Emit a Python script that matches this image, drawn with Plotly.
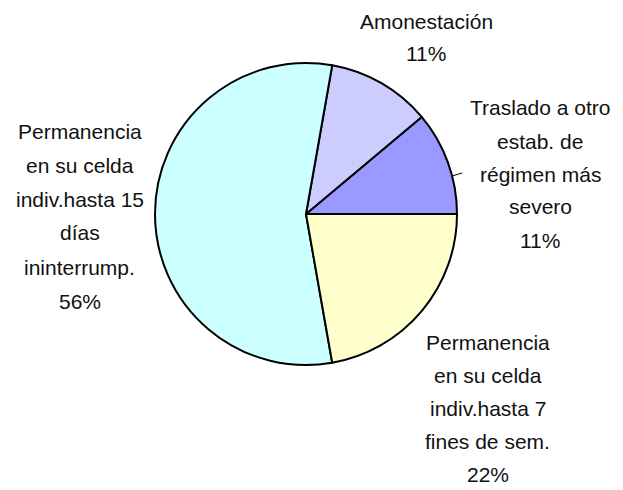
import plotly.graph_objects as go

categories = ["Traslado a otro estab. de régimen más severo",
              "Amonestación",
              "Permanencia en su celda indiv.hasta 15 días ininterrump.",
              "Permanencia en su celda indiv.hasta 7 fines de sem."]
values = [1, 1, 5, 2]
colors = ["#9999FF", "#CCCCFF", "#CCFFFF", "#FFFFCC"]
label_lines = [
    ["Traslado a otro", "estab. de", "régimen más", "severo"],
    ["Amonestación"],
    ["Permanencia", "en su celda", "indiv.hasta 15", "días", "ininterrump."],
    ["Permanencia", "en su celda", "indiv.hasta 7", "fines de sem."],
]

W, H = 623, 490
cx, cy, r = 306, 214, 151

fig = go.Figure(go.Pie(
    labels=categories, values=values, sort=False,
    direction="counterclockwise", rotation=50,
    marker=dict(colors=colors, line=dict(color="black", width=2)),
    textinfo="none", hoverinfo="label+percent", showlegend=False,
    domain=dict(x=[(cx - r) / W, (cx + r) / W], y=[(H - cy - r) / H, (H - cy + r) / H]),
))

# label anchor (center x, first line center y, line spacing) in pixels
anchors = [(540, 108, 33), (426, 22, 32), (80, 131, 34), (488, 342, 33)]
font = dict(family="Liberation Sans Narrow, Arial Narrow, Liberation Sans, Arial", size=21, color="#111111")
total = sum(values)
ann = []
for lines, v, (ax, ay, sp) in zip(label_lines, values, anchors):
    all_lines = lines + [f"{round(v / total * 100)}%"]
    for i, t in enumerate(all_lines):
        y = ay + i * sp
        ann.append(dict(x=ax / W, y=1 - y / H, xref="paper", yref="paper", text=t,
                        showarrow=False, font=font, xanchor="center", yanchor="middle"))

fig.update_layout(
    width=W, height=H, margin=dict(l=0, r=0, t=0, b=0),
    paper_bgcolor="white", plot_bgcolor="white",
    annotations=ann,
    shapes=[dict(type="line", xref="paper", yref="paper",
                 x0=452 / W, y0=1 - 176 / H, x1=462 / W, y1=1 - 173 / H,
                 line=dict(color="black", width=1))],
)
fig.write_html("out.html", config={"displayModeBar": False},
               post_script="document.body.style.margin='0';document.body.style.overflow='hidden';")
